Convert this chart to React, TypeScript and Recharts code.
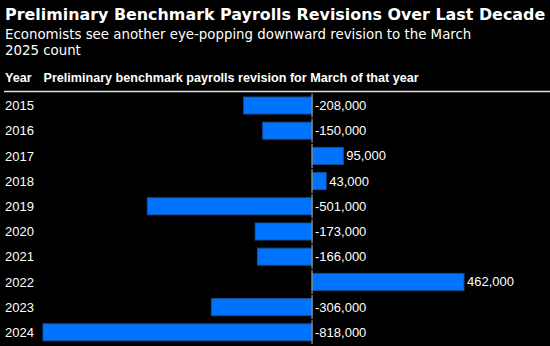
import React from "react"
import { BarChart, Bar, XAxis, YAxis, LabelList } from "recharts"

const years = ["2015", "2016", "2017", "2018", "2019", "2020", "2021", "2022", "2023", "2024"]
const revisions = [-208000, -150000, 95000, 43000, -501000, -173000, -166000, 462000, -306000, -818000]

const TITLE = "Preliminary Benchmark Payrolls Revisions Over Last Decade"
const SUBTITLE = ["Economists see another eye-popping downward revision to the March", "2025 count"]
const HEADER_YEAR = "Year"
const HEADER_VALUE = "Preliminary benchmark payrolls revision for March of that year"

const BAR_FILL = "#0074ff"
const BAR_STROKE = "#1b4f96"
const ZERO_COLOR = "#9a9a9a"
const SANS = "'Liberation Sans', Arial, sans-serif"
const WIDE = "'DejaVu Sans', Verdana, sans-serif"

const data = years.map((year, i) => ({ year, value: revisions[i] }))

function YearTick(props: any) {
  const { y, payload } = props
  return (
    <text x={5} y={y} dy={4.5} fill="#fff" fontSize={13} fontFamily={SANS}>
      {payload.value}
    </text>
  )
}

// bar plus its own little zero-line segment
function BarShape(props: any) {
  const { x, y, width, height } = props
  const v = props.payload?.value ?? 0
  const left = Math.min(x, x + width)
  const w = Math.abs(width)
  const zero = v < 0 ? left + w : left
  return (
    <g>
      <rect x={left} y={y} width={w} height={height} fill={BAR_FILL} stroke={BAR_STROKE} strokeWidth={1} />
      <line x1={zero} x2={zero} y1={y - 3.5} y2={y + height + 3.5} stroke={ZERO_COLOR} strokeWidth={1.2} />
    </g>
  )
}

function ValueLabel(props: any) {
  const { x, y, width, height, value } = props
  const lx = Math.max(x, x + width) + 3
  return (
    <text x={lx} y={y + height / 2} dy={4.5} fill="#fff" fontSize={13} fontFamily={SANS}>
      {Number(value).toLocaleString("en-US")}
    </text>
  )
}

export default function App() {
  return (
    <div
      style={{
        position: "absolute",
        left: 0,
        top: 0,
        width: 550,
        height: 346,
        background: "#000",
        overflow: "hidden",
      }}
    >
      <svg width={550} height={95} style={{ position: "absolute", left: 0, top: 0 }}>
        <text x={5} y={20} fill="#fff" fontSize={15.9} fontWeight="bold" fontFamily={WIDE}>
          {TITLE}
        </text>
        <text x={5} y={38.5} fill="#fff" fontSize={13.35} fontFamily={WIDE}>
          {SUBTITLE[0]}
        </text>
        <text x={5} y={54.5} fill="#fff" fontSize={13.35} fontFamily={WIDE}>
          {SUBTITLE[1]}
        </text>
        <text x={5} y={82} fill="#fff" fontSize={12.6} fontWeight="bold" fontFamily={SANS}>
          {HEADER_YEAR}
        </text>
        <text x={43.5} y={82} fill="#fff" fontSize={12.6} fontWeight="bold" fontFamily={SANS}>
          {HEADER_VALUE}
        </text>
        <line x1={4} x2={550} y1={91.5} y2={91.5} stroke="#e0e0e0" strokeWidth={1.5} />
      </svg>
      <BarChart
        width={550}
        height={346}
        layout="vertical"
        data={data}
        margin={{ top: 93, right: 86, bottom: 1, left: 0 }}
        style={{ position: "absolute", left: 0, top: 0 }}
      >
        <XAxis type="number" domain={[-818000, 462000]} hide />
        <YAxis
          type="category"
          dataKey="year"
          width={43}
          axisLine={false}
          tickLine={false}
          tick={<YearTick />}
        />
        <Bar dataKey="value" barSize={17} shape={<BarShape />} isAnimationActive={false}>
          <LabelList dataKey="value" content={<ValueLabel />} />
        </Bar>
      </BarChart>
    </div>
  )
}
